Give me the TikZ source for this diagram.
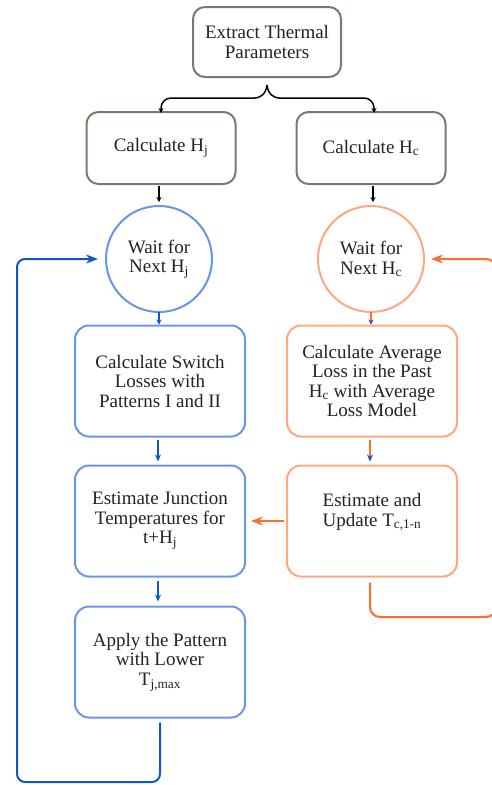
\documentclass[tikz,border=0pt]{standalone}
\usepackage{fontspec}
\setmainfont{Liberation Serif}
\usetikzlibrary{arrows.meta,calc}
\definecolor{boxgray}{RGB}{122,122,108}
\definecolor{boxblue}{RGB}{104,150,230}
\definecolor{boxorange}{RGB}{255,168,128}
\definecolor{lineblue}{RGB}{17,85,204}
\definecolor{lineorange}{RGB}{255,109,45}
\definecolor{txtgray}{RGB}{34,34,34}

\begin{document}
\begin{tikzpicture}[x=1pt,y=1pt,inner sep=0pt,outer sep=0pt,
    every node/.style={font=\fontsize{19}{19.5}\selectfont, text=txtgray, align=center},
    graybox/.style={draw=boxgray, line width=2pt, rounded corners=12pt,
        minimum width=148pt, minimum height=70pt},
    bluebox/.style={draw=boxblue, line width=2pt, rounded corners=14pt,
        minimum width=170pt, minimum height=111pt},
    orangebox/.style={draw=boxorange, line width=2pt, rounded corners=14pt,
        minimum width=170pt, minimum height=111pt},
    waitcirc/.style={circle, line width=2pt, minimum size=106pt},
    blackarrow/.style={draw=black, line width=1.5pt, -{Stealth[length=5pt,width=5pt]}},
    bluearrow/.style={draw=lineblue, line width=2pt, -{Stealth[length=12pt,width=9pt]}},
    orangearrow/.style={draw=lineorange, line width=2pt, -{Stealth[length=12pt,width=9pt]}}
    ]
    \useasboundingbox (0,0) rectangle (492,-785);

    % top of the chart
    \node[graybox] (extract) at (267,-42) {Extract Thermal\\Parameters};
    \node[graybox, minimum width=149pt, minimum height=72pt] (calchj) at (161,-148)
        {Calculate H\textsubscript{j}};
    \node[graybox, minimum width=149pt, minimum height=72pt] (calchc) at (371,-148)
        {Calculate H\textsubscript{c}};

    % brace
    \coordinate (brtip) at ($(extract.south)+(0,-8)$);
    \draw[blackarrow, rounded corners=10pt] (brtip)
        .. controls ($(brtip)+(-1,-10)$) and ($(brtip)+(-8,-13)$) .. ($(brtip)+(-22,-13)$)
        -| ($(calchj.north)+(0,-1)$);
    \draw[blackarrow, rounded corners=10pt] (brtip)
        .. controls ($(brtip)+(1,-10)$) and ($(brtip)+(8,-13)$) .. ($(brtip)+(22,-13)$)
        -| ($(calchc.north)+(3,-1)$);

    % junction side
    \node[waitcirc, draw=boxblue] (waitj) at (159,-259) {Wait for\\Next H\textsubscript{j}};
    \node[bluebox] (switchloss) at (160,-381)
        {Calculate Switch\\Losses with\\Patterns I and II};
    \node[bluebox] (estjunc) at (160,-521)
        {Estimate Junction\\Temperatures for\\t+H\textsubscript{j}};
    \node[bluebox] (apply) at (160,-662)
        {Apply the Pattern\\with Lower\\T\textsubscript{j,max}};

    % case side
    \node[waitcirc, draw=boxorange] (waitc) at (371,-259) {Wait for\\Next H\textsubscript{c}};
    \node[orangebox] (avgloss) at (372,-381)
        {Calculate Average\\Loss in the Past\\H\textsubscript{c} with Average\\Loss Model};
    \node[orangebox] (estupd) at (372,-521)
        {Estimate and\\Update T\textsubscript{c,1-n}\\[3pt]};

    % arrows
    \draw[blackarrow, shorten <=2pt, shorten >=4pt] (calchj.south -| waitj) -- (waitj.north);
    \draw[blackarrow, shorten <=2pt, shorten >=4pt] ($(calchc.south)+(2,0)$) -- ($(waitc.north)+(2,0)$);
    \draw[draw=lineblue, line width=1.5pt, -{Stealth[length=5pt,width=5pt]}, shorten >=1pt]
        (waitj.south) -- (waitj.south |- switchloss.north);
    \draw[draw=lineorange, line width=1.5pt, -{Stealth[length=5pt,width=5pt,color=lineblue]}, shorten >=1pt]
        (waitc.south) -- (waitc.south |- avgloss.north);
    \draw[draw=lineblue, line width=1.5pt, -{Stealth[length=7pt,width=6pt]}, shorten <=3pt, shorten >=4pt]
        ($(switchloss.south)+(-2,0)$) -- ($(estjunc.north)+(-2,0)$);
    \draw[draw=lineorange, line width=1.5pt, -{Stealth[length=7pt,width=6pt,color=lineblue]}, shorten <=3pt, shorten >=4pt]
        ($(avgloss.south)+(-2,0)$) -- ($(estupd.north)+(-2,0)$);
    \draw[draw=lineblue, line width=1.5pt, -{Stealth[length=7pt,width=6pt]}, shorten <=4pt, shorten >=5pt]
        ($(estjunc.south)+(-2,0)$) -- ($(apply.north)+(-2,0)$);
    \draw[orangearrow, shorten <=3pt, shorten >=6pt] (estupd.west) -- (estjunc.east);

    % feedback loops
    \coordinate (bluecorner) at (17,-782);
    \draw[bluearrow, rounded corners=8pt, shorten >=8pt]
        ($(apply.south)+(0,-5)$) |- (bluecorner) |- (waitj.west);
    \coordinate (orangecorner) at (496,-617);
    \draw[orangearrow, rounded corners=10pt, shorten >=7pt]
        ($(estupd.south)+(-2,-6)$) |- (orangecorner) |- (waitc.east);
\end{tikzpicture}
\end{document}
